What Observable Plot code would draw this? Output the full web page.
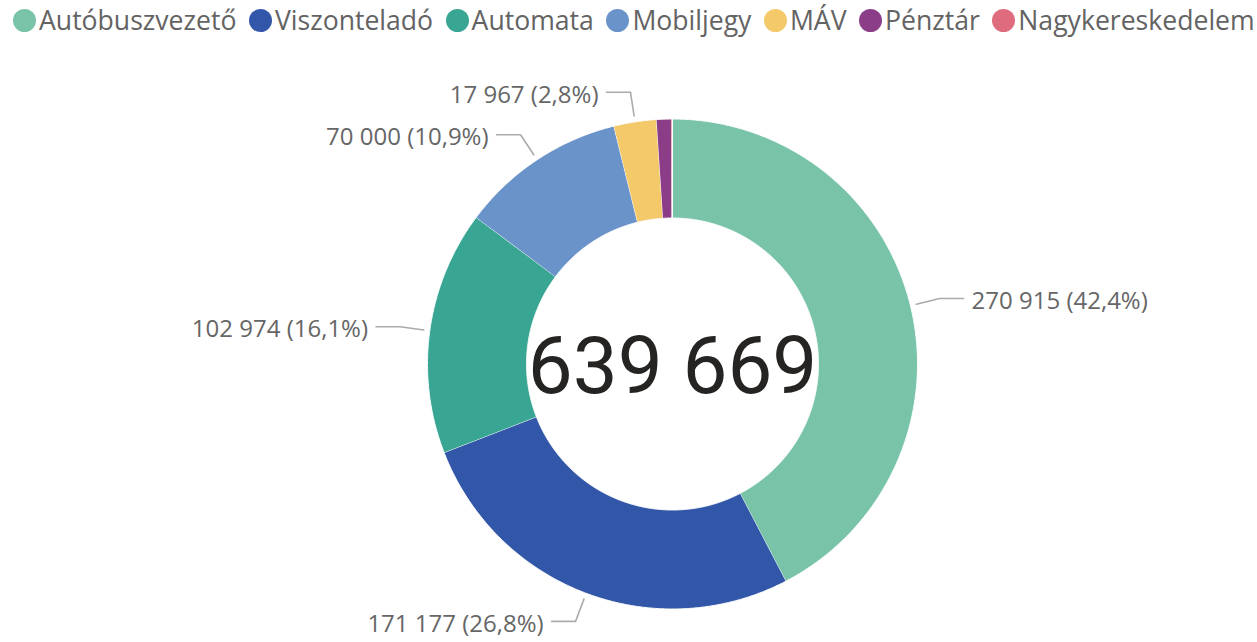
<!DOCTYPE html>
<html><head><meta charset="utf-8">
<script src="https://cdn.jsdelivr.net/npm/d3@7"></script>
<script src="https://cdn.jsdelivr.net/npm/@observablehq/plot@0.6"></script>
<style>
body{margin:0;background:#fff;font-family:"Segoe UI","Open Sans",sans-serif;}
#legend{height:40px;display:flex;align-items:center;padding-left:13px;font-size:26.6px;color:#636363;white-space:nowrap;overflow:hidden;}
.item{display:flex;align-items:center;margin-right:12.5px;}
.dot{width:23px;height:23px;border-radius:50%;margin-right:3px;flex:none;}
</style></head><body>
<div id="legend"></div>
<div id="chart"></div>
<script>
// ---- data ----
const categories = ["Autóbuszvezető","Viszonteladó","Automata","Mobiljegy","MÁV","Pénztár","Nagykereskedelem"];
const values = [270915, 171177, 102974, 70000, 17967, 6200, 436];
const colors = ["#79C4A8","#3257A8","#38A692","#6A93C9","#F4C96A","#8B3D88","#DF6B7F"];

// ---- layout constants ----
const W = 1257, H = 602;
const cx = 672, cy = 323.5, rOuter = 245, rInner = 146;
const rLead0 = 251, rLead1 = 275, leadH = 24, textGap = 8;

const locale = d3.formatLocale({decimal: ",", thousands: "\u00a0", grouping: [3], currency: ["", ""]});
const fmtInt = locale.format(",d");
const fmtPct = locale.format(".1f");

const total = d3.sum(values);
const rows = categories.map((name, i) => ({name, value: values[i]}));
const arcs = d3.pie().sort(null).value(d => d.value).startAngle(0).endAngle(2 * Math.PI)(rows);

const pt = (a, r) => [cx + r * Math.sin(a), cy - r * Math.cos(a)];

// slice polygons
const poly = [];
for (const a of arcs) {
  const n = Math.max(2, Math.ceil((a.endAngle - a.startAngle) / 0.005));
  for (let k = 0; k <= n; k++) {
    const t = a.startAngle + (a.endAngle - a.startAngle) * k / n;
    const [x, y] = pt(t, rOuter);
    poly.push({name: a.data.name, x, y});
  }
  for (let k = n; k >= 0; k--) {
    const t = a.startAngle + (a.endAngle - a.startAngle) * k / n;
    const [x, y] = pt(t, rInner);
    poly.push({name: a.data.name, x, y});
  }
}

// labels for slices >= 2%
const leaders = [], labels = [];
for (const a of arcs) {
  const share = a.data.value / total;
  if (share < 0.02) continue;
  const m = (a.startAngle + a.endAngle) / 2;
  const right = Math.sin(m) >= 0;
  const p0 = pt(m, rLead0), p1 = pt(m, rLead1);
  const p2 = [p1[0] + (right ? leadH : -leadH), p1[1]];
  for (const p of [p0, p1, p2]) leaders.push({name: a.data.name, x: p[0], y: p[1]});
  labels.push({
    x: p2[0] + (right ? textGap : -textGap),
    y: p2[1] + 3,
    right,
    text: `${fmtInt(a.data.value)} (${fmtPct(share * 100)}%)`
  });
}

// legend
const leg = document.getElementById("legend");
categories.forEach((c, i) => {
  const it = document.createElement("div"); it.className = "item";
  const d = document.createElement("span"); d.className = "dot"; d.style.background = colors[i];
  const t = document.createElement("span"); t.textContent = c;
  it.appendChild(d); it.appendChild(t); leg.appendChild(it);
});

const chart = Plot.plot({
  width: W, height: H,
  margin: 0,
  x: {domain: [0, W], range: [0, W], axis: null},
  y: {domain: [0, H], range: [0, H], axis: null},
  color: {domain: categories, range: colors},
  style: {fontFamily: '"Segoe UI","Open Sans",sans-serif', background: "#fff"},
  marks: [
    Plot.line(poly, {x: "x", y: "y", z: "name", fill: "name", stroke: "white", strokeWidth: 1, curve: "linear"}),
    Plot.line(leaders, {x: "x", y: "y", z: "name", stroke: "#ABABAB", strokeWidth: 1.6}),
    Plot.text(labels.filter(d => d.right), {x: "x", y: "y", text: "text", textAnchor: "start", fontSize: 24, fill: "#666"}),
    Plot.text(labels.filter(d => !d.right), {x: "x", y: "y", text: "text", textAnchor: "end", fontSize: 24, fill: "#666"}),
    Plot.text([{x: cx, y: cy + 3, t: fmtInt(total)}], {x: "x", y: "y", text: "t", fontSize: 80, fill: "#252423", fontFamily: "Roboto", ariaLabel: "center"})
  ]
});
document.getElementById("chart").appendChild(chart);
d3.select(chart).selectAll('g[aria-label="center"] text').style("letter-spacing", "-3px");
</script>
</body></html>
